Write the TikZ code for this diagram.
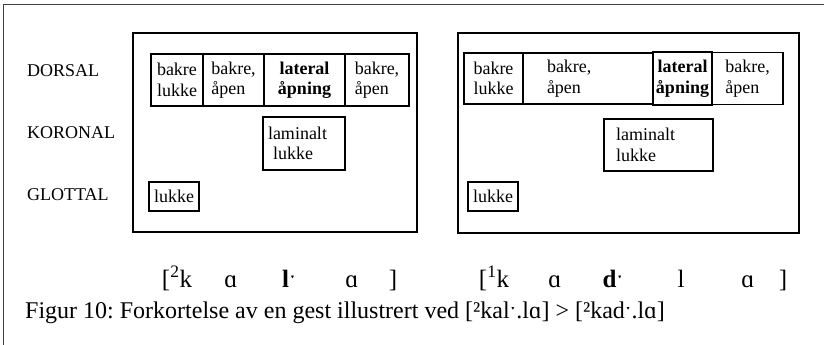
\documentclass[tikz,border=0pt]{standalone}
\usepackage{fontspec}
\setmainfont{Liberation Serif}
\usetikzlibrary{positioning}
\frenchspacing
\tikzset{
  panel/.style={draw,line width=1.6pt,anchor=north west,inner sep=0pt,outer sep=0pt},
  gest/.style={draw,line width=1.2pt,anchor=north west,inner sep=0pt,outer sep=0pt,
    minimum height=52pt,align=left,font=\fontsize{18}{20.5}\selectfont},
  tykk/.style={gest,line width=2.2pt},
  rad/.style={anchor=west,inner sep=0pt,font=\fontsize{18}{20}\selectfont},
  lyd/.style={anchor=base,inner sep=0pt,font=\fontsize{25}{28}\selectfont}
}
\begin{document}
\begin{tikzpicture}[x=1pt,y=-1pt]
\useasboundingbox (0,0) rectangle (824,345);
\draw[line width=1pt,black!75] (824,5) -- (3,5) -- (3,345);
% radene
\node[rad] (dorsal) at (27,71) {DORSAL};
\node[rad] (koronal) at (27,133) {KORONAL};
\node[rad] (glottal) at (27,195) {GLOTTAL};
% venstre: [2kal.la]
\node[panel,minimum width=284pt,minimum height=199pt] (pl) at (133,33) {};
\node[gest,minimum width=52pt] (lA1) at (151,54) {bakre\\lukke};
\node[gest,minimum width=61pt] (lA2) [right=0pt of lA1] {bakre,\\åpen};
\node[tykk,minimum width=81pt,align=center] (lA3) [right=0pt of lA2] {\textbf{lateral}\\\textbf{åpning}};
\node[gest,minimum width=64pt] (lA4) [right=0pt of lA3] {bakre,\\åpen};
\node[gest,minimum width=82pt,minimum height=53pt,text width=72pt] (lK) at (263,117) {laminalt\\\hspace*{5pt}lukke};
\node[gest,minimum width=50pt,minimum height=29pt] (lG) at (149,182) {lukke};
% hoyre: [1kad.la]
\node[panel,minimum width=341pt,minimum height=200pt] (pr) at (458,33) {};
\node[gest,minimum width=59pt,minimum height=51pt] (rA1) at (464,53) {bakre\\lukke};
\node[gest,minimum width=130pt,minimum height=51pt,text width=82pt] (rA2) [right=0pt of rA1] {bakre,\\åpen};
\node[tykk,minimum width=59pt,minimum height=53pt,align=center] (rA3) [right=0pt of rA2] {\textbf{lateral}\\\textbf{åpning}};
\node[gest,minimum width=71pt] (rA4) [right=0pt of rA3] {bakre,\\åpen};
\node[gest,minimum width=109pt,minimum height=52pt,text width=85pt] (rK) at (604,119) {laminalt\\lukke};
\node[gest,minimum width=50pt,minimum height=29pt] (rG) at (468,182) {lukke};
% transkripsjon
\node[lyd] (t1) at (177,287) {[\textsuperscript{2}k};
\node[lyd] (t2) at (231,287) {ɑ};
\node[lyd] (t3) at (289,287) {\textbf{lˑ}};
\node[lyd] (t4) at (352,287) {ɑ};
\node[lyd] (t5) at (393,287) {]};
\node[lyd] (u1) at (494,287) {[\textsuperscript{1}k};
\node[lyd] (u2) at (555,287) {ɑ};
\node[lyd] (u3) at (613,287) {\textbf{dˑ}};
\node[lyd] (u4) at (681,287) {l};
\node[lyd] (u5) at (748,287) {ɑ};
\node[lyd] (u6) at (783,287) {]};
\node[anchor=base west,inner sep=0pt,font=\fontsize{24}{26}\selectfont] (figur) at (25,318)
  {Figur 10: Forkortelse av en gest illustrert ved [²kalˑ.lɑ] > [²kadˑ.lɑ]};
\end{tikzpicture}
\end{document}
